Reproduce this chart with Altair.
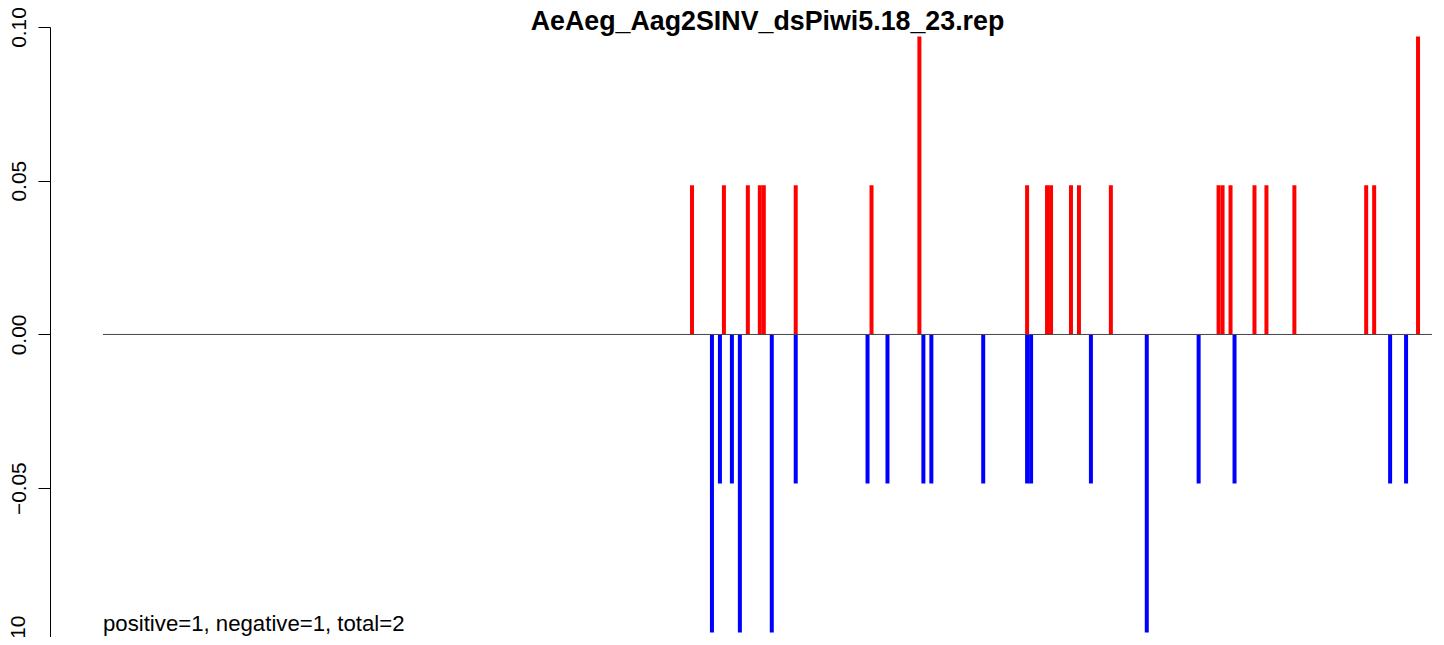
import altair as alt
import pandas as pd

title_text = "AeAeg_Aag2SINV_dsPiwi5.18_23.rep"
summary_text = "positive=1, negative=1, total=2"
bottom_tick_label = "\u22120.10"

# positive (red) bars: position index and value
pos_index = [148, 156, 162, 165, 166, 174, 193, 205, 232, 237, 238, 243,
             245, 253, 280, 281, 283, 289, 292, 299, 317, 319, 330]
pos_value = [0.0485, 0.0485, 0.0485, 0.0485, 0.0485, 0.0485, 0.0485, 0.0969,
             0.0485, 0.0485, 0.0485, 0.0485, 0.0485, 0.0485, 0.0485, 0.0485,
             0.0485, 0.0485, 0.0485, 0.0485, 0.0485, 0.0485, 0.0969]

# negative (blue) bars
neg_index = [153, 155, 158, 160, 168, 174, 192, 197, 206, 208, 221, 232,
             233, 248, 262, 275, 284, 323, 327]
neg_value = [-0.0969, -0.0485, -0.0485, -0.0969, -0.0969, -0.0485, -0.0485,
             -0.0485, -0.0485, -0.0485, -0.0485, -0.0485, -0.0485, -0.0485,
             -0.0969, -0.0485, -0.0485, -0.0485, -0.0485]

x_domain = [0.35, 333.5]
y_domain = [-0.0984, 0.10]
y_ticks = [-0.05, 0.00, 0.05, 0.10]

bars = pd.DataFrame({
    "pos": pos_index + neg_index,
    "value": pos_value + neg_value,
    "strand": ["positive"] * len(pos_index) + ["negative"] * len(neg_index),
})
base_line = pd.DataFrame({"x0": [x_domain[0]], "x1": [x_domain[1]], "y": [0.0]})

FONT = "Liberation Sans"
W, H = 1329, 610

xscale = alt.Scale(domain=x_domain, nice=False, zero=False)
yscale = alt.Scale(domain=y_domain, nice=False, zero=False)

bar_layer = alt.Chart(bars).mark_rule(strokeWidth=4).encode(
    x=alt.X("pos:Q", scale=xscale, axis=None),
    y=alt.Y("value:Q", scale=yscale,
            axis=alt.Axis(values=y_ticks, format=".2f", title=None, grid=False,
                          labelAngle=-90, labelAlign="center",
                          labelBaseline="alphabetic", labelFont=FONT,
                          labelFontSize=20.8, labelColor="black",
                          tickSize=12, tickColor="black", tickWidth=1,
                          domainColor="black", domainWidth=1,
                          labelPadding=13, offset=53, labelOverlap=False,
                          labelBound=False, labelFlush=False)),
    y2=alt.datum(0),
    color=alt.Color("strand:N",
                    scale=alt.Scale(domain=["positive", "negative"],
                                    range=["#ff0000", "#0000ff"]),
                    legend=None),
)

zero_line = alt.Chart(base_line).mark_rule(color="#444444", strokeWidth=1).encode(
    x=alt.X("x0:Q", scale=xscale, axis=None),
    x2="x1:Q",
    y=alt.Y("y:Q", scale=yscale),
)

title_mark = alt.Chart(pd.DataFrame({"t": [title_text]})).mark_text(
    font=FONT, fontSize=26.8, fontWeight="bold", align="center",
    baseline="alphabetic", color="black"
).encode(text="t:N", x=alt.value(W / 2), y=alt.value(3))

summary_mark = alt.Chart(pd.DataFrame({"t": [summary_text]})).mark_text(
    font=FONT, fontSize=22.2, align="left", baseline="alphabetic", color="black"
).encode(text="t:N", x=alt.value(0), y=alt.value(604))

# the -0.10 tick label sits at the very bottom edge and is partly cut off, as in the reference
bottom_label = alt.Chart(pd.DataFrame({"t": [bottom_tick_label]})).mark_text(
    font=FONT, fontSize=20.8, align="center", baseline="alphabetic",
    angle=270, color="black"
).encode(text="t:N", x=alt.value(-78), y=alt.value(615))

chart = alt.layer(bar_layer, zero_line, title_mark, summary_mark, bottom_label).properties(
    width=W, height=H,
    autosize=alt.AutoSizeParams(type="none"),
    padding={"left": 95, "top": 19, "right": 4, "bottom": 0},
    background="white",
).configure_view(stroke="transparent")

chart.save("out.html", embed_options={"renderer": "svg", "actions": False})
